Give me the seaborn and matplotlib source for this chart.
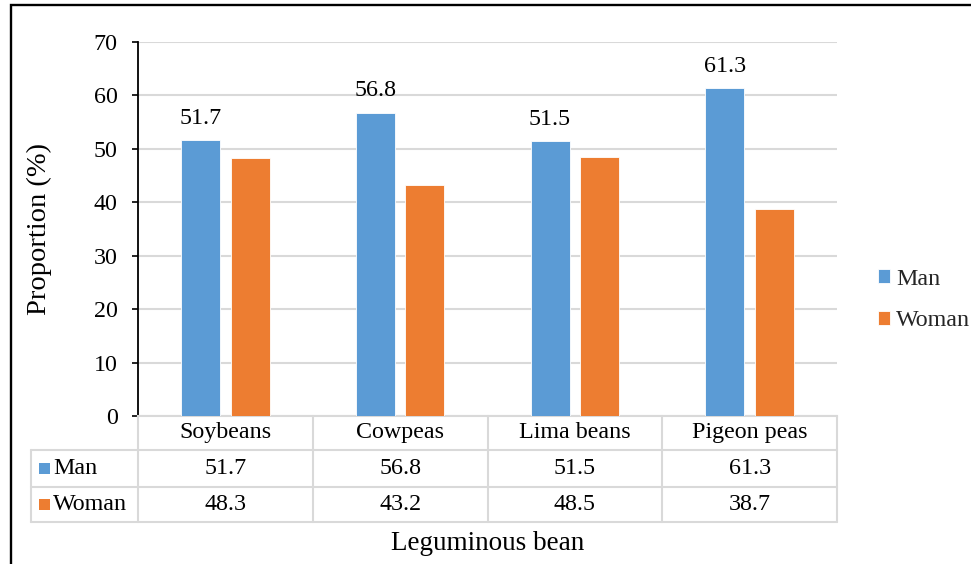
import matplotlib
matplotlib.use("Agg")
import matplotlib.pyplot as plt
import matplotlib.transforms as mtransforms
from matplotlib.patches import Rectangle
import pandas as pd
import seaborn as sns

# Data
beans = ["Soybeans", "Cowpeas", "Lima beans", "Pigeon peas"]
groups = ["Man", "Woman"]
man_values = [51.7, 56.8, 51.5, 61.3]
woman_values = [48.3, 43.2, 48.5, 38.7]
y_ticks = [0, 10, 20, 30, 40, 50, 60, 70]

colors = ["#5B9BD5", "#ED7D31"]
grid_color = "#D9D9D9"
fs = 17.3

df = pd.DataFrame({
    "Leguminous bean": beans * 2,
    "Group": [groups[0]] * len(beans) + [groups[1]] * len(beans),
    "Proportion": man_values + woman_values,
})

sns.set_theme(style="white")
plt.rcParams["font.family"] = ["Liberation Serif", "DejaVu Serif"]

fig = plt.figure(figsize=(9.71, 5.64), dpi=100)
ax = fig.add_axes([138 / 971, 1 - 416 / 564, 699 / 971, 374 / 564])

sns.barplot(data=df, x="Leguminous bean", y="Proportion", hue="Group",
            order=beans, hue_order=groups, palette=colors, saturation=1,
            width=0.567, gap=0.21, edgecolor="white", linewidth=0.6,
            ax=ax, zorder=3)

ax.set_xlim(-0.5, len(beans) - 0.5)
ax.set_ylim(0, 70)
ax.set_yticks(y_ticks)
ax.set_yticklabels([str(t) for t in y_ticks], fontsize=fs, color="black")
ax.set_xticks([])
ax.grid(axis="y", color=grid_color, linewidth=1.5, zorder=0)
ax.set_axisbelow(True)

for side in ["top", "right"]:
    ax.spines[side].set_visible(False)
ax.spines["left"].set_color("black")
ax.spines["left"].set_linewidth(1.3)
ax.spines["bottom"].set_color(grid_color)
ax.spines["bottom"].set_linewidth(1.5)
ax.tick_params(axis="y", which="major", left=True, length=4.5, width=1.2,
               color="black", pad=10, direction="out")

# Value labels over the Man bars
ax.bar_label(ax.containers[0], labels=[f"{v:.1f}" for v in man_values],
             padding=8, fontsize=fs, color="black")

# Axis titles
ax.set_ylabel("Proportion (%)", fontsize=20.5, color="black")
ax.yaxis.set_label_coords(-0.1416, 0.5)
ax.yaxis.label.set_verticalalignment("center")
ax.set_xlabel("Leguminous bean", fontsize=19.5, color="black")
ax.xaxis.set_label_coords(0.5, -0.3396)
ax.xaxis.label.set_verticalalignment("center")

# Side legend
sns.move_legend(ax, loc="center left", bbox_to_anchor=(878 / 971, 1 - 300 / 564),
                bbox_transform=fig.transFigure, frameon=False, title=None,
                fontsize=fs, handlelength=0.5, handleheight=0.5,
                handletextpad=0.25, labelspacing=0.85, borderpad=0,
                borderaxespad=0)

# Data table below the axis
blend = mtransforms.blended_transform_factory(ax.transData, ax.transAxes)
tbl_left = -0.1531
row_edges = [0.0, -0.0909, -0.1898, -0.2834]
line_kw = dict(color=grid_color, linewidth=1.5, clip_on=False, zorder=1)

for y in row_edges[1:]:
    ax.plot([tbl_left, 1.0], [y, y], transform=ax.transAxes, **line_kw)
ax.plot([tbl_left, tbl_left], [row_edges[1], row_edges[3]], transform=ax.transAxes, **line_kw)
ax.plot([0, 0], [row_edges[0], row_edges[3]], transform=ax.transAxes, **line_kw)
for i in range(len(beans)):
    ax.plot([i + 0.5, i + 0.5], [row_edges[0], row_edges[3]], transform=blend, **line_kw)

text_kw = dict(fontsize=fs, color="black", va="center", clip_on=False)
header_y = (row_edges[0] + row_edges[1]) / 2
for i, name in enumerate(beans):
    ax.text(i, header_y, name, ha="center", transform=blend, **text_kw)

for r, (name, vals) in enumerate(zip(groups, [man_values, woman_values])):
    yc = (row_edges[r + 1] + row_edges[r + 2]) / 2
    for i, v in enumerate(vals):
        ax.text(i, yc, f"{v:.1f}", ha="center", transform=blend, **text_kw)
    sq_h = 11 / 374
    ax.add_patch(Rectangle((-0.1416, yc - sq_h / 2), 11 / 699, sq_h,
                           transform=ax.transAxes, facecolor=colors[r],
                           edgecolor="none", clip_on=False))
    ax.text(-0.1216, yc, name, ha="left", transform=ax.transAxes, **text_kw)

# Outer frame
fig.patches.append(Rectangle((11 / 971, -0.2), 1.5, 1.2 - 5 / 564,
                             transform=fig.transFigure, fill=False,
                             edgecolor="black", linewidth=1.7))

fig.savefig("out.png", dpi=100)
